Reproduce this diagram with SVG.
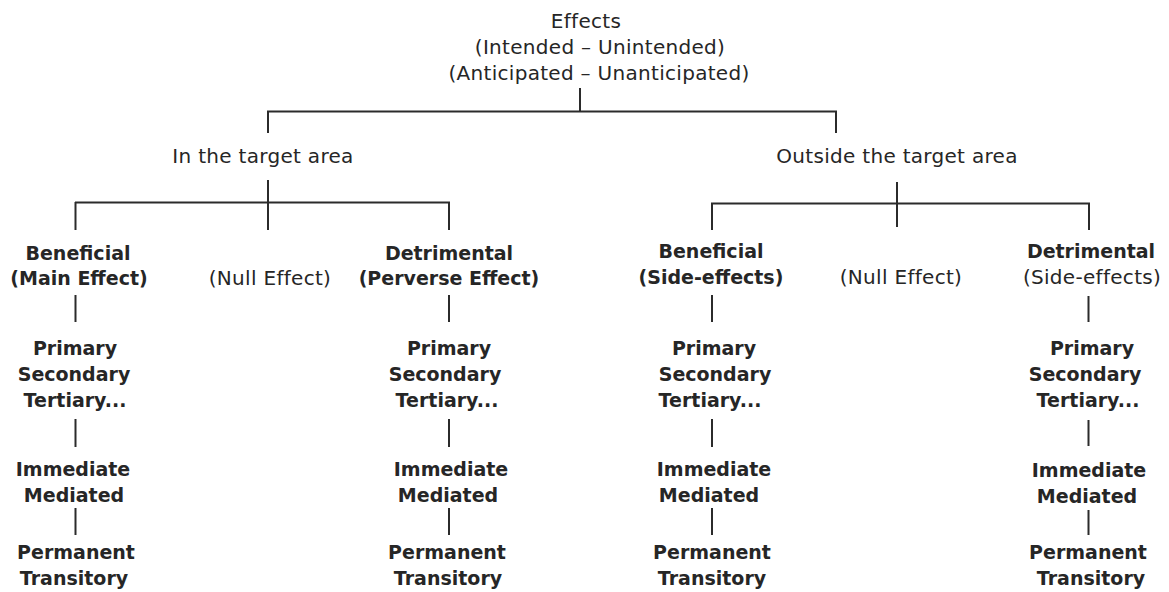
<svg xmlns="http://www.w3.org/2000/svg" width="1169" height="592" viewBox="0 0 1169 592">
<style>
text{font-family:"DejaVu Sans","Liberation Sans",sans-serif;text-anchor:middle;fill:#262626}
.r{font-size:20px;letter-spacing:0.3px}
.b{font-size:19px;font-weight:bold}
.c line{stroke:#2b2b2b;stroke-width:2;fill:none}
</style>
<rect width="1169" height="592" fill="#fff"/>
<g class="c" id="connectors">
<line x1="580" y1="88" x2="580" y2="112"/>
<line x1="267" y1="111.5" x2="837" y2="111.5"/>
<line x1="268" y1="111" x2="268" y2="133"/>
<line x1="836" y1="111" x2="836" y2="133"/>
<line x1="268" y1="180" x2="268" y2="230"/>
<line x1="75" y1="202.5" x2="450" y2="202.5"/>
<line x1="75.5" y1="202" x2="75.5" y2="230"/>
<line x1="449" y1="202" x2="449" y2="230"/>
<line x1="897" y1="182" x2="897" y2="227"/>
<line x1="711" y1="203.5" x2="1090" y2="203.5"/>
<line x1="712" y1="203" x2="712" y2="230"/>
<line x1="1089" y1="203" x2="1089" y2="230"/>
<line x1="75.5" y1="295" x2="75.5" y2="322"/>
<line x1="75.5" y1="419" x2="75.5" y2="447"/>
<line x1="75.5" y1="508" x2="75.5" y2="535"/>
<line x1="449" y1="295" x2="449" y2="322"/>
<line x1="449" y1="419" x2="449" y2="447"/>
<line x1="449" y1="508" x2="449" y2="535"/>
<line x1="712" y1="295" x2="712" y2="322"/>
<line x1="712" y1="419" x2="712" y2="447"/>
<line x1="712" y1="508" x2="712" y2="535"/>
<line x1="1088.5" y1="296" x2="1088.5" y2="322"/>
<line x1="1088.5" y1="420" x2="1088.5" y2="446"/>
<line x1="1088.5" y1="510" x2="1088.5" y2="535"/>
</g>
<g id="effects"><text class="r" x="586" y="28">Effects</text><text class="r" x="600" y="54">(Intended – Unintended)</text><text class="r" x="599" y="80">(Anticipated – Unanticipated)</text></g>
<g id="in-target"><text class="r" x="263" y="163">In the target area</text></g>
<g id="outside-target"><text class="r" x="897" y="163">Outside the target area</text></g>
<g id="in-beneficial"><text class="b" x="78" y="260">Beneficial</text><text class="b" x="79" y="285">(Main Effect)</text></g>
<g id="in-null"><text class="r" x="270" y="285">(Null Effect)</text></g>
<g id="in-detrimental"><text class="b" x="449" y="260">Detrimental</text><text class="b" x="449" y="285">(Perverse Effect)</text></g>
<g id="out-beneficial"><text class="b" x="711" y="258">Beneficial</text><text class="b" x="711" y="284">(Side-effects)</text></g>
<g id="out-null"><text class="r" x="901" y="284">(Null Effect)</text></g>
<g id="out-detrimental"><text class="b" x="1091" y="258">Detrimental</text><text class="r" x="1092" y="284">(Side-effects)</text></g>
<g id="in-ben-order"><text class="b" x="75" y="355">Primary</text><text class="b" x="74" y="381">Secondary</text><text class="b" x="75" y="407">Tertiary...</text></g>
<g id="in-ben-time"><text class="b" x="73" y="476">Immediate</text><text class="b" x="74" y="502">Mediated</text></g>
<g id="in-ben-dur"><text class="b" x="76" y="559">Permanent</text><text class="b" x="74" y="585">Transitory</text></g>
<g id="in-det-order"><text class="b" x="449" y="355">Primary</text><text class="b" x="445" y="381">Secondary</text><text class="b" x="447" y="407">Tertiary...</text></g>
<g id="in-det-time"><text class="b" x="451" y="476">Immediate</text><text class="b" x="448" y="502">Mediated</text></g>
<g id="in-det-dur"><text class="b" x="447" y="559">Permanent</text><text class="b" x="448" y="585">Transitory</text></g>
<g id="out-ben-order"><text class="b" x="714" y="355">Primary</text><text class="b" x="715" y="381">Secondary</text><text class="b" x="710" y="407">Tertiary...</text></g>
<g id="out-ben-time"><text class="b" x="714" y="476">Immediate</text><text class="b" x="709" y="502">Mediated</text></g>
<g id="out-ben-dur"><text class="b" x="712" y="559">Permanent</text><text class="b" x="712" y="585">Transitory</text></g>
<g id="out-det-order"><text class="b" x="1092" y="355">Primary</text><text class="b" x="1085" y="381">Secondary</text><text class="b" x="1088" y="407">Tertiary...</text></g>
<g id="out-det-time"><text class="b" x="1089" y="477">Immediate</text><text class="b" x="1087" y="503">Mediated</text></g>
<g id="out-det-dur"><text class="b" x="1088" y="559">Permanent</text><text class="b" x="1091" y="585">Transitory</text></g>
</svg>
